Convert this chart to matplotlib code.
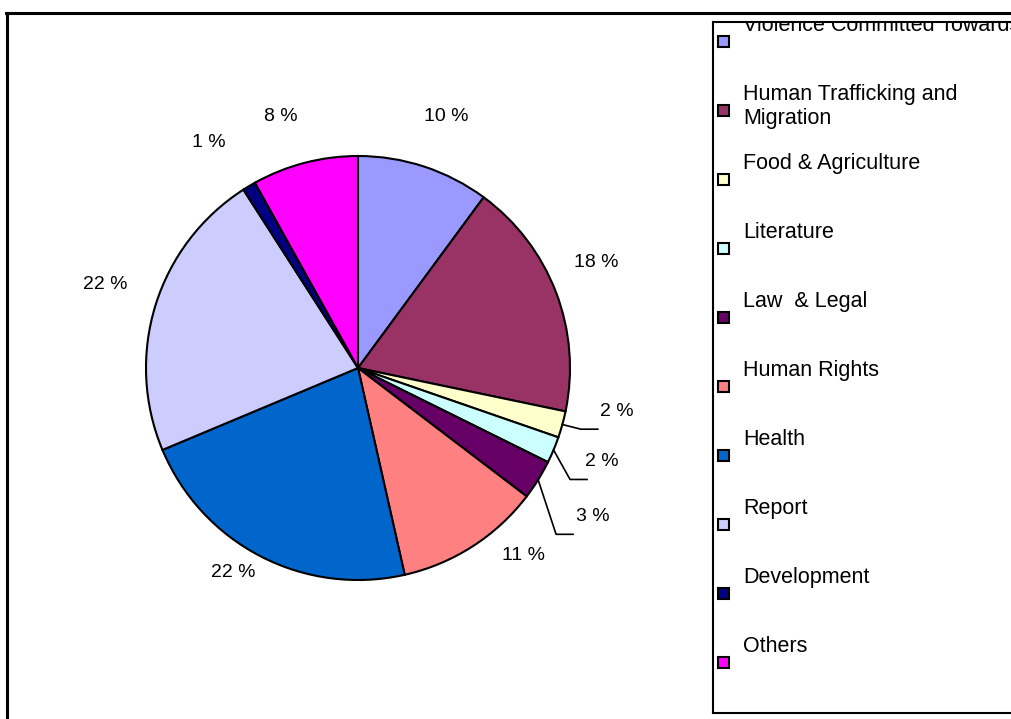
import numpy as np
import matplotlib.pyplot as plt
from matplotlib.lines import Line2D
from matplotlib.patches import Rectangle

categories = ["Violence Committed Towards Women",
              "Human Trafficking and\nMigration",
              "Food & Agriculture", "Literature", "Law  & Legal",
              "Human Rights", "Health", "Report", "Development", "Others"]
counts = [10, 18, 2, 2, 3, 11, 22, 22, 1, 8]
colors = ["#9999FF", "#993366", "#FFFFCC", "#CCFFFF", "#660066",
          "#FF8080", "#0066CC", "#CCCCFF", "#000080", "#FF00FF"]

plt.rcParams['font.family'] = ['Liberation Sans', 'DejaVu Sans']

W, H = 1011, 719
fig = plt.figure(figsize=(W / 100, H / 100), dpi=100)

# outer frame, only top and left edges fall inside the image
fig.add_artist(Line2D([6 / W, 1.0], [1 - 13 / H] * 2, color='black',
                      lw=2.2, transform=fig.transFigure))
fig.add_artist(Line2D([7 / W] * 2, [0, 1 - 13 / H], color='black',
                      lw=2.2, transform=fig.transFigure))

# pie, positioned in pixels
cx, cy, r = 358, 368, 212
ax = fig.add_axes([(cx - r) / W, (H - cy - r) / H, 2 * r / W, 2 * r / H])
wedges, _ = ax.pie(counts, colors=colors, startangle=90, counterclock=False,
                   radius=1, wedgeprops=dict(edgecolor='black', linewidth=1.5))
ax.set_xlim(-1, 1)
ax.set_ylim(-1, 1)

pct = 100 * np.array(counts) / sum(counts)

# label radius and angle nudge (deg) from each wedge's middle
label_r = [1.256, 1.23, 1.24, 1.23, 1.31, 1.18, 1.13, 1.256, 1.275, 1.24]
label_nudge = [-1.2, 2.9, 6, 1.8, -0.6, 8.6, -4.1, -0.9, 2.6, 2.5]
# thin slices get a leader line: elbow radius, elbow nudge
leaders = {2: (1.09, 0.1), 3: (1.13, -5), 4: (1.22, -8.2)}

for i, w in enumerate(wedges):
    mid = (w.theta1 + w.theta2) / 2
    a = np.radians(mid + label_nudge[i])
    ax.text(label_r[i] * np.cos(a), label_r[i] * np.sin(a), f"{pct[i]:.0f} %",
            ha='center', va='center', fontsize=14)
    if i in leaders:
        er, en = leaders[i]
        m = np.radians(mid)
        e = np.radians(mid + en)
        ex, ey = er * np.cos(e), er * np.sin(e)
        ax.plot([np.cos(m), ex, ex + 0.08], [np.sin(m), ey, ey],
                color='black', lw=1.2, clip_on=False)

# legend box drawn by hand in pixel units
lx0, ly0, ly1 = 713, 22, 713
lw_ = W + 20 - lx0
lax = fig.add_axes([lx0 / W, (H - ly1) / H, lw_ / W, (ly1 - ly0) / H])
lax.set_xlim(0, lw_)
lax.set_ylim(ly1 - ly0, 0)
lax.set_xticks([])
lax.set_yticks([])
for s in lax.spines.values():
    s.set_linewidth(1.5)

for i, (name, c) in enumerate(zip(categories, colors)):
    y = 19 + 69 * i
    lax.add_patch(Rectangle((5, y - 5.5), 11, 11, facecolor=c,
                            edgecolor='black', lw=1.5))
    lax.text(30, y - 26, name, ha='left', va='top', fontsize=15.5,
             linespacing=1.2, clip_on=True)

fig.savefig('out.png', dpi=100)
